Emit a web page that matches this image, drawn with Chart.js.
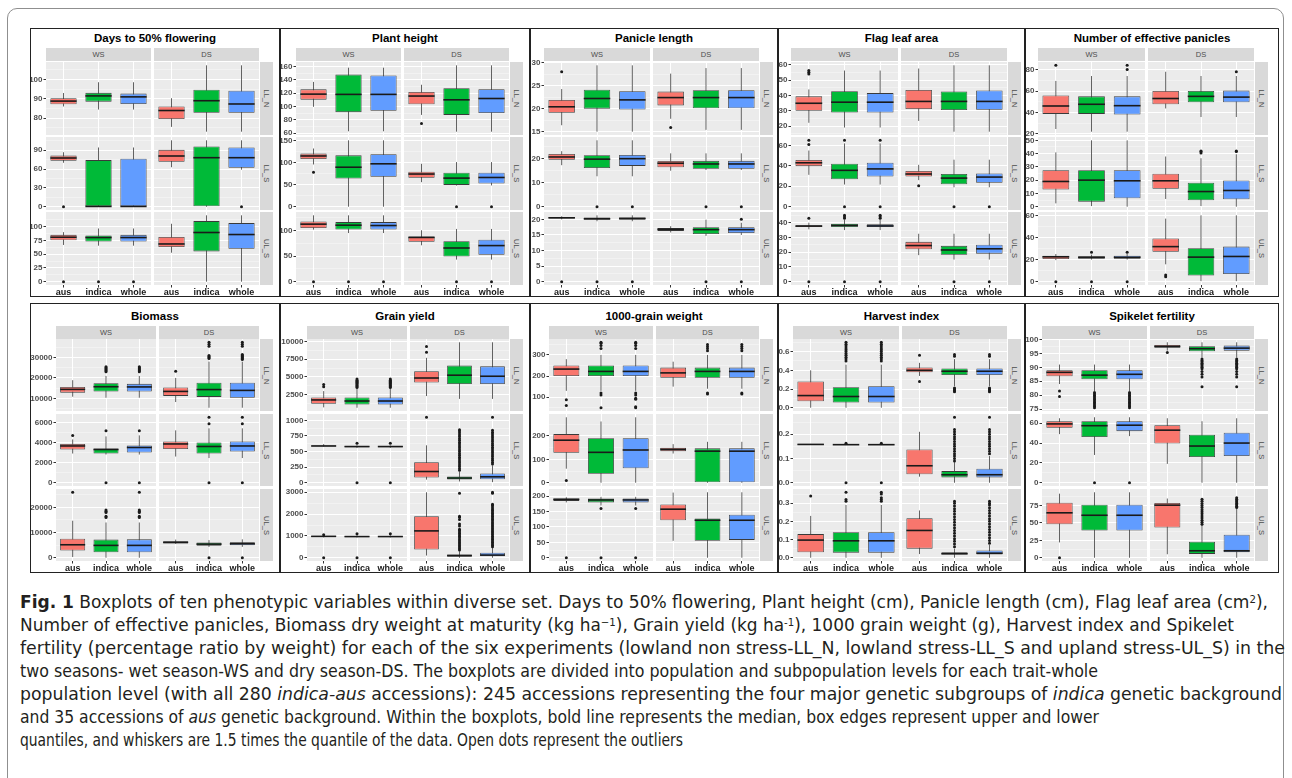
<!DOCTYPE html>
<html>
<head>
<meta charset="utf-8">
<script src="https://cdn.jsdelivr.net/npm/chart.js@4.4.0/dist/chart.umd.min.js"></script>
<style>
  body { margin: 0; width: 1292px; height: 778px; overflow: hidden; background: #fff;
         font-family: "Liberation Sans", Arial, sans-serif; }
  #frame { position: absolute; left: 7px; top: 8px; width: 1277px; height: 800px;
           border: 1px solid #8f8f8f; border-radius: 10px; box-sizing: border-box; }
  .panel { position: absolute; background: #fff; }
  .panel .edge { position: absolute; inset: 0; border: 1.5px solid #222; pointer-events: none; }
  .title { position: absolute; left: 0; right: 0; text-align: center; font-weight: bold;
           font-size: 11.5px; color: #000; line-height: 14px; }
  .strip { position: absolute; background: #d9d9d9; color: #4d4d4d; font-size: 7.5px;
           display: flex; align-items: center; justify-content: center; }
  .strip.side span { transform: rotate(90deg); white-space: nowrap; display: inline-block; }
  canvas { position: absolute; }
  #caption { position: absolute; left: 20px; top: 591px; width: 2000px; color: #231f20;
             font-family: "DejaVu Sans Condensed", "Liberation Sans Narrow", "Liberation Sans", sans-serif;
             font-size: 17px; line-height: 23px; }
  #caption div { white-space: nowrap; height: 23px; }
  #caption span.line { display: inline-block; transform-origin: 0 50%; white-space: nowrap; }
  #caption sup { font-size: 0.6em; line-height: 0; position: relative; top: -0.5em; vertical-align: baseline; }
</style>
</head>
<body>
<div id="frame"></div>
<div id="figure"></div>
<div id="caption">
  <div><span class="line"><b>Fig. 1</b> Boxplots of ten phenotypic variables within diverse set. Days to 50% flowering, Plant height (cm), Panicle length (cm), Flag leaf area (cm<sup>2</sup>),</span></div>
  <div><span class="line">Number of effective panicles, Biomass dry weight at maturity (kg ha<sup>−1</sup>), Grain yield (kg ha<sup>-1</sup>), 1000 grain weight (g), Harvest index and Spikelet</span></div>
  <div><span class="line">fertility (percentage ratio by weight) for each of the six experiments (lowland non stress-LL_N, lowland stress-LL_S and upland stress-UL_S) in the</span></div>
  <div><span class="line">two seasons- wet season-WS and dry season-DS. The boxplots are divided into population and subpopulation levels for each trait-whole</span></div>
  <div><span class="line">population level (with all 280 <i>indica-aus</i> accessions): 245 accessions representing the four major genetic subgroups of <i>indica</i> genetic background</span></div>
  <div><span class="line">and 35 accessions of <i>aus</i> genetic background. Within the boxplots, bold line represents the median, box edges represent upper and lower</span></div>
  <div><span class="line">quantiles, and whiskers are 1.5 times the quantile of the data. Open dots represent the outliers</span></div>
</div>
<script>
const groups = ["aus", "indica", "whole"];
const seasons = ["WS", "DS"];
const environments = ["LL_N", "LL_S", "UL_S"];
const traitTitles = ["Days to 50% flowering", "Plant height", "Panicle length", "Flag leaf area",
  "Number of effective panicles", "Biomass", "Grain yield", "1000-grain weight", "Harvest index",
  "Spikelet fertility"];

// each box: [lower whisker, q1, median, q3, upper whisker]
// order: LL_N WS, LL_N DS, LL_S WS, LL_S DS, UL_S WS, UL_S DS (aus, indica, whole each)
const floweringBoxes = [
  [86, 87.1, 88.8, 90.3, 93], [84.4, 88.5, 91.5, 93.1, 98.6], [84.4, 87.3, 91, 92.7, 98.6],
  [75.4, 79.5, 83.9, 86, 90.3], [72.9, 82.7, 89, 94.7, 107.4], [72.9, 82.7, 87.3, 94.2, 107.4],
  [70, 73.3, 77.6, 81.4, 86.8], [0, 0, 0.4, 74.3, 94.4], [0, 0, 0.4, 76.5, 94.4],
  [62.9, 71.6, 80.8, 90.6, 105.8], [0, 0, 78.1, 96, 105.8], [59, 61.9, 78.1, 94.4, 105.8],
  [66.9, 75.5, 81, 85.3, 90.2], [65.6, 73, 80.4, 84, 96.9], [65.6, 73, 80.4, 85.3, 96.9],
  [52.8, 63.2, 68.7, 81.6, 105.5], [0, 55.2, 89.6, 110.4, 120.9], [0, 60.1, 85.9, 106.7, 120.9]
];
const floweringOutliers = [[], [], [], [], [], [], [0], [], [], [], [], [0], [0], [0], [0], [], [], []];
const floweringTicks = [[80, 90, 100], [0, 30, 60, 90], [0, 25, 50, 75, 100]];

const heightBoxes = [
  [99.5, 110.3, 118.6, 125.8, 137], [62.6, 91.4, 118.2, 148, 158.5], [62.6, 93.5, 118.2, 146.6, 158.5],
  [87.3, 103.3, 115.7, 121.9, 132.7], [62, 87.3, 110, 127.5, 162], [62, 90, 112, 126, 162],
  [95.4, 107.7, 114.6, 120, 131.5], [0, 63.8, 89.2, 116, 150], [0, 67.7, 96.9, 118.5, 150],
  [55.4, 65.4, 73.8, 79.2, 96.9], [47.7, 49.2, 64.6, 76.9, 100.8], [48, 52.3, 66, 76.9, 100.8],
  [102, 105.3, 112.7, 118, 130], [95.3, 102, 110.7, 116.7, 130], [95.3, 102, 110, 116.7, 130],
  [71.3, 78, 86.7, 88.7, 100.7], [43.3, 49.3, 66, 79.3, 103.3], [43.3, 52.7, 70.7, 82, 103.3]
];
const heightOutliers = [[], [], [], [74.4], [], [], [77.7], [], [], [], [0], [0], [0], [0], [0], [], [0], [0]];
const heightTicks = [[60, 80, 100, 120, 140, 160], [0, 50, 100, 150], [0, 50, 100]];

const panicleBoxes = [
  [16.4, 19.1, 20.4, 21.9, 24.25], [15, 20, 22.2, 24.1, 29.4], [15, 19.8, 21.9, 23.8, 29.4],
  [17.8, 20.7, 22.4, 23.7, 27.6], [15.4, 20.1, 22.4, 24, 28.8], [15.4, 20.1, 22.4, 24, 28.8],
  [17.2, 19.4, 20.6, 21.8, 23], [12.6, 16, 19.7, 21.3, 27.5], [12.6, 16.9, 19.9, 21.4, 27.5],
  [14.9, 16.3, 18, 18.9, 22.1], [15.2, 15.7, 17.7, 19, 22.1], [15.2, 15.7, 17.7, 19, 22.1],
  [20, 20.3, 20.5, 20.8, 21], [19.4, 19.9, 20.2, 20.6, 21.3], [19.4, 19.9, 20.3, 20.6, 21.3],
  [15.8, 16.3, 16.8, 17.2, 17.8], [14.7, 15.3, 16.7, 17.5, 19.9], [15, 15.6, 16.7, 17.5, 18.9]
];
const panicleOutliers = [[28], [], [], [15.9], [], [], [], [0], [0], [], [0], [0], [0], [0], [0], [], [0], [20, 0]];
const panicleTicks = [[15, 20, 25, 30], [0, 10, 20], [0, 5, 10, 15, 20]];

const flagLeafBoxes = [
  [22.2, 30, 34.9, 39.4, 43.9], [19.1, 28.9, 35.6, 42.8, 56.2], [19.1, 28.9, 35.6, 41.5, 56.2],
  [23.4, 31.2, 36.1, 43.5, 57.5], [16.4, 30.5, 36.1, 42.6, 59.6], [16.4, 30.7, 36.1, 43.2, 59.6],
  [31.2, 39.7, 43, 45.8, 55], [21.7, 26.8, 35.6, 42, 62], [21.7, 29.5, 37, 43, 62],
  [26, 29.5, 32, 35, 41], [19, 22, 28, 32, 46], [19, 23.5, 29, 32.5, 46],
  [35.5, 37, 37.7, 38.3, 40], [35, 37, 38.2, 39.3, 42], [35, 37, 37.8, 39, 42],
  [18, 22, 24.5, 27, 32.5], [15, 18.3, 21.5, 24.3, 32.5], [15, 19, 22.3, 25, 32.5]
];
const flagLeafOutliers = [[54, 55.1, 56.2], [], [], [], [], [], [61, 65], [65, 0], [65, 0], [20.5], [0], [0],
  [43, 0], [43, 44, 45, 0], [43, 44, 45, 0], [], [0], [0]];
const flagLeafTicks = [[20, 30, 40, 50, 60], [0, 20, 40, 60], [0, 10, 20, 30, 40]];

const paniclesBoxes = [
  [24.5, 38.6, 46, 55.9, 69.4], [22, 38.6, 47.6, 55, 74], [22, 38, 46.3, 55, 74],
  [43.7, 47.6, 53, 60, 78], [35.7, 49.5, 55, 60, 74], [35.7, 49.5, 54.3, 60.4, 74],
  [2.5, 12.9, 19, 27.4, 40.9], [0.5, 3.8, 20, 27.4, 50], [0, 6.3, 19.5, 27.4, 50],
  [5.8, 13.5, 19.5, 24.9, 37.8], [0.5, 4.8, 11.4, 18, 36.5], [0, 5.6, 12.2, 19.8, 39.5],
  [19.5, 20.5, 22.5, 23.5, 25], [20, 20.8, 22, 23, 24.5], [20, 20.8, 22, 23.5, 25],
  [15.7, 27, 31.7, 39, 57], [0.5, 5.5, 22.2, 30.2, 60], [0.5, 7, 22.8, 31.7, 60]
];
const paniclesOutliers = [[84], [], [80, 84], [], [], [78], [], [], [], [], [40.5, 41.5, 42], [41.5, 42],
  [0], [26.5, 0], [26.5, 0], [6, 4.5], [], []];
const paniclesTicks = [[20, 40, 60, 80], [0, 10, 20, 30, 40, 50], [0, 20, 40, 60]];

const biomassBoxes = [
  [10800, 12800, 14400, 15600, 18900], [10300, 13300, 15700, 17400, 21000], [10300, 13300, 15600, 17100, 21000],
  [8200, 11200, 13400, 15300, 20000], [5400, 10700, 14300, 17700, 28000], [5400, 10300, 13900, 17700, 28000],
  [2900, 3300, 3650, 3850, 4300], [2800, 2900, 3300, 3400, 4600], [2800, 3000, 3500, 3700, 4700],
  [2600, 3350, 3850, 4100, 5200], [2450, 2900, 3600, 4000, 5400], [2450, 3100, 3650, 4100, 5400],
  [300, 2850, 5150, 7550, 14700], [0, 2200, 4900, 7200, 14000], [0, 2200, 4900, 7300, 14000],
  [5500, 5700, 6100, 6500, 7200], [4300, 4800, 5400, 6000, 7000], [4300, 5000, 5600, 6100, 7300]
];
const biomassOutliers = [
  [], [23000, 23500, 24000, 24500, 25000, 25500], [23000, 23500, 24000, 24500, 25000, 25500],
  [23300], [29500, 30000, 30500, 31000, 35500, 36500, 37500], [29000, 29500, 30000, 30500, 31000, 31500, 35500, 36500, 37500],
  [4700], [5150, 0], [5150, 0],
  [], [5850, 6500, 0], [5850, 6500, 0],
  [26000], [16000, 16500, 18000, 18500, 19000], [16000, 16500, 18000, 18500, 19000, 26000],
  [], [0], [0]
];
const biomassTicks = [[10000, 20000, 30000], [0, 2000, 4000, 6000], [0, 10000, 20000]];

const grainYieldBoxes = [
  [700, 1200, 1750, 2100, 3000], [650, 1100, 1600, 2100, 3300], [650, 1100, 1600, 2100, 3300],
  [2300, 4200, 4850, 5800, 7700], [1900, 4000, 5250, 6600, 9900], [1900, 4000, 5100, 6500, 9900],
  [580, 583, 590, 595, 620], [560, 570, 580, 590, 600], [560, 570, 580, 590, 600],
  [50, 85, 180, 330, 600], [20, 50, 75, 100, 180], [10, 55, 95, 150, 280],
  [930, 950, 980, 1000, 1020], [930, 950, 970, 1000, 1030], [930, 950, 970, 1000, 1030],
  [100, 380, 1230, 1900, 3000], [0, 50, 100, 150, 300], [0, 70, 120, 230, 450]
];
const grainYieldOutliers = [
  [3600, 3950], [3500, 3650, 3800, 3950, 4100, 4250, 4400, 4550, 4700], [3500, 3650, 3800, 3950, 4100, 4250, 4400, 4550, 4700],
  [8500, 9300], [], [],
  [], [635, 0], [635, 0],
  [1050], [200, 230, 260, 290, 320, 350, 380, 410, 440, 470, 500, 530, 560, 590, 620, 650, 680, 710, 740, 770, 800, 830, 850],
  [300, 330, 360, 390, 420, 450, 480, 510, 540, 570, 600, 630, 660, 690, 720, 750, 780, 810, 840, 1050],
  [1050, 0], [1100, 0], [1100, 0],
  [], [350, 420, 490, 560, 630, 700, 770, 840, 910, 980, 1050, 1120, 1190, 1260, 1300, 1450, 1550, 1750, 1850, 1900, 2950],
  [500, 570, 640, 710, 780, 850, 920, 990, 1060, 1130, 1200, 1270, 1340, 1410, 1480, 1550, 1620, 1690, 1760, 1830, 1900,
   1970, 2040, 2110, 2180, 2250, 2320, 2400, 2450, 2950, 3000]
];
const grainYieldTicks = [[2500, 5000, 7500, 10000], [0, 250, 500, 750, 1000], [0, 1000, 2000, 3000]];

const grainWeightBoxes = [
  [130, 200, 233, 250, 280], [130, 200, 222, 250, 300], [130, 200, 222, 250, 300],
  [150, 192, 215, 240, 268], [140, 192, 222, 240, 300], [140, 192, 222, 240, 300],
  [60, 128, 182, 208, 280], [0, 38, 130, 190, 262], [0, 62, 140, 190, 280],
  [125, 135, 143, 150, 165], [0, 0, 135, 147, 175], [0, 0, 135, 147, 175],
  [180, 185, 190, 193, 197], [170, 180, 188, 193, 198], [170, 180, 188, 193, 198],
  [55, 122, 158, 173, 212], [0, 55, 122, 128, 213], [0, 58, 122, 140, 213]
];
const grainWeightOutliers = [
  [88, 60], [330, 345, 355, 360, 120, 110, 50], [330, 345, 355, 360, 120, 110, 95, 90, 55, 50],
  [], [320, 330, 340, 350, 115, 120], [320, 330, 340, 350, 115, 120],
  [10], [], [], [], [], [],
  [0], [160, 0], [160, 0], [], [], []
];
const grainWeightTicks = [[100, 200, 300], [0, 100, 200], [0, 50, 100, 150, 200]];

const harvestBoxes = [
  [0, 0.07, 0.13, 0.28, 0.40], [0, 0.055, 0.12, 0.22, 0.46], [0, 0.055, 0.12, 0.23, 0.46],
  [0.34, 0.38, 0.40, 0.43, 0.48], [0.23, 0.35, 0.39, 0.42, 0.52], [0.23, 0.35, 0.39, 0.42, 0.52],
  [0.157, 0.157, 0.158, 0.16, 0.16], [0.155, 0.156, 0.157, 0.158, 0.159], [0.155, 0.156, 0.157, 0.158, 0.159],
  [0.025, 0.035, 0.07, 0.137, 0.21], [0, 0.022, 0.033, 0.048, 0.085], [0, 0.022, 0.033, 0.058, 0.11],
  [0, 0.03, 0.097, 0.13, 0.23], [0, 0.028, 0.093, 0.14, 0.29], [0, 0.028, 0.093, 0.14, 0.29],
  [0.02, 0.05, 0.15, 0.217, 0.26], [0, 0.018, 0.022, 0.03, 0.05], [0, 0.018, 0.025, 0.04, 0.07]
];
const harvestOutliers = [
  [], [0.50, 0.52, 0.54, 0.56, 0.58, 0.60, 0.62, 0.64, 0.66, 0.68, 0.70], [0.50, 0.52, 0.54, 0.56, 0.58, 0.60, 0.62, 0.64, 0.66, 0.68, 0.70],
  [0.56, 0.28], [0.55, 0.57, 0.17, 0.18, 0.19, 0.20, 0.21], [0.55, 0.57, 0.17, 0.18, 0.19, 0.20, 0.21],
  [], [0.163, 0], [0.163, 0],
  [], [0.09, 0.10, 0.11, 0.12, 0.13, 0.14, 0.15, 0.16, 0.17, 0.18, 0.19, 0.20, 0.21, 0.22, 0.27],
  [0.12, 0.13, 0.14, 0.15, 0.16, 0.17, 0.18, 0.19, 0.20, 0.21, 0.22, 0.27],
  [0.34], [0.31, 0.32, 0.36], [0.31, 0.32, 0.33, 0.35, 0.36],
  [], [0.06, 0.075, 0.09, 0.105, 0.12, 0.135, 0.15, 0.165, 0.18, 0.195, 0.21, 0.225, 0.24, 0.255, 0.27, 0.285, 0.30, 0.31],
  [0.08, 0.095, 0.11, 0.125, 0.14, 0.155, 0.17, 0.185, 0.20, 0.215, 0.23, 0.245, 0.26, 0.275, 0.29, 0.30, 0.31]
];
const harvestTicks = [[0, 0.2, 0.4, 0.6], [0, 0.1, 0.2], [0, 0.1, 0.2, 0.3]];

const spikeletBoxes = [
  [84, 86.8, 88.2, 89, 91], [81.5, 85.7, 87.2, 89, 91], [81.5, 85.7, 87.5, 89, 91],
  [96, 97, 97.5, 98, 99], [93.5, 95.8, 96.7, 97.6, 99], [93.5, 96, 96.9, 97.8, 99],
  [49, 55.5, 59.3, 62, 65], [28, 46, 57.5, 62, 66], [47, 52, 58, 62, 66],
  [19, 39.5, 53, 58, 65], [0, 26, 37, 48.5, 62], [0, 27, 40, 50.5, 65],
  [22, 48, 64.5, 79, 92], [0, 39, 61, 76, 94], [0, 39, 61, 76, 94],
  [5, 43.5, 75.5, 78.5, 85], [0, 5.5, 10, 23, 47], [0, 8, 10, 33, 70]
];
const spikeletOutliers = [
  [81.5, 79.5], [75.5, 76, 76.5, 77, 77.5, 78, 78.5, 79, 79.5, 80, 80.5, 81], [75.5, 76, 76.5, 77, 77.5, 78, 78.5, 79, 79.5, 80, 80.5, 81],
  [95.3], [83, 86.5, 87.5, 88.5, 89.5, 90, 90.5, 91, 91.5, 92, 92.5, 93], [83, 86.5, 87.5, 88.5, 89.5, 90, 90.5, 91, 91.5, 92, 92.5, 93],
  [], [0], [0], [], [], [],
  [0], [], [],
  [], [48, 51, 54, 57, 60, 63, 66, 69, 72, 75, 78, 81, 84], [72, 74, 76, 78, 80, 82, 84, 86]
];
const spikeletTicks = [[75, 80, 85, 90, 95, 100], [0, 20, 40, 60], [0, 25, 50, 75]];

const traitTable = [
  [floweringBoxes, floweringOutliers, floweringTicks],
  [heightBoxes, heightOutliers, heightTicks],
  [panicleBoxes, panicleOutliers, panicleTicks],
  [flagLeafBoxes, flagLeafOutliers, flagLeafTicks],
  [paniclesBoxes, paniclesOutliers, paniclesTicks],
  [biomassBoxes, biomassOutliers, biomassTicks],
  [grainYieldBoxes, grainYieldOutliers, grainYieldTicks],
  [grainWeightBoxes, grainWeightOutliers, grainWeightTicks],
  [harvestBoxes, harvestOutliers, harvestTicks],
  [spikeletBoxes, spikeletOutliers, spikeletTicks]
];

const groupColors = ["#F8766D", "#00BA38", "#619CFF"];

// layout
const panelEdges = [30, 280, 530, 778, 1025, 1279];
const plotLefts = [16, 16, 14, 13, 13, 26, 27, 19, 15, 17];
const rowLayouts = [
  { y: 28, h: 269, titleY: 3, stripY: 20, rowY: [34, 109, 184], rowH: 73 },
  { y: 303, h: 270, titleY: 5.5, stripY: 23, rowY: [36, 111, 186], rowH: 72 }
];
const plotRight = 229;
const facetGap = 3;
const labelRoom = 5; // extra canvas space so edge tick labels are not clipped

Chart.defaults.font.family = '"Liberation Sans", Arial, sans-serif';

const panelBackground = {
  id: "panelBackground",
  beforeDraw(chart) {
    const { ctx, chartArea: a } = chart;
    ctx.save();
    ctx.fillStyle = "#ebebeb";
    ctx.fillRect(a.left, a.top, a.width, a.height);
    ctx.restore();
  }
};

function boxParts(boxes, outliers) {
  return {
    id: "boxParts",
    beforeDatasetsDraw(chart) {
      const { ctx, scales: { y } } = chart;
      const bars = chart.getDatasetMeta(0).data;
      ctx.save();
      ctx.strokeStyle = "#3a3a3a";
      ctx.lineWidth = 0.8;
      boxes.forEach((b, i) => {
        const x = bars[i].x;
        ctx.beginPath();
        ctx.moveTo(x, y.getPixelForValue(b[0]));
        ctx.lineTo(x, y.getPixelForValue(b[4]));
        ctx.stroke();
      });
      ctx.restore();
    },
    afterDatasetsDraw(chart) {
      const { ctx, scales: { y } } = chart;
      const bars = chart.getDatasetMeta(0).data;
      ctx.save();
      ctx.strokeStyle = "#1a1a1a";
      ctx.lineWidth = 1.6;
      boxes.forEach((b, i) => {
        const bar = bars[i];
        const py = y.getPixelForValue(b[2]);
        ctx.beginPath();
        ctx.moveTo(bar.x - bar.width / 2, py);
        ctx.lineTo(bar.x + bar.width / 2, py);
        ctx.stroke();
      });
      ctx.fillStyle = "#1a1a1a";
      outliers.forEach((list, i) => {
        list.forEach((v) => {
          ctx.beginPath();
          ctx.arc(bars[i].x, y.getPixelForValue(v), 1.5, 0, Math.PI * 2);
          ctx.fill();
        });
      });
      ctx.restore();
    }
  };
}

function buildTicks(majors, min, max) {
  const step = majors.length > 1 ? majors[1] - majors[0] : 1;
  const list = majors.map((v) => ({ value: v, major: true }));
  majors.forEach((v) => list.push({ value: v - step / 2, major: false }));
  list.push({ value: majors[majors.length - 1] + step / 2, major: false });
  return list.filter((t) => t.value >= min && t.value <= max).sort((a, b) => a.value - b.value);
}

function makeFacet(canvas, boxes, outliers, range, majors, yWidth, showX) {
  const decimals = majors.some((v) => !Number.isInteger(v)) ? 1 : 0;
  const ticks = buildTicks(majors, range[0], range[1]);
  new Chart(canvas, {
    type: "bar",
    data: {
      labels: groups,
      datasets: [{
        data: boxes.map((b) => [b[1], b[3]]),
        backgroundColor: groupColors,
        borderColor: "#3a3a3a",
        borderWidth: 0.8,
        borderSkipped: false,
        barPercentage: 0.75,
        categoryPercentage: 1
      }]
    },
    options: {
      responsive: false,
      animation: false,
      events: [],
      layout: { padding: { top: labelRoom, bottom: showX ? 0 : labelRoom, left: 0, right: 0 } },
      plugins: { legend: { display: false }, tooltip: { enabled: false } },
      scales: {
        x: {
          grid: { offset: false, color: "#ffffff", lineWidth: 1, drawTicks: showX, tickLength: 2.5, tickColor: "#333" },
          border: { display: false },
          ticks: { display: showX, padding: 0, autoSkip: false, maxRotation: 0, color: "#1a1a1a",
                   font: { size: 9, weight: "bold" } },
          afterFit: (axis) => {
            axis.height = showX ? 16 : 0;
            axis.paddingLeft = 0; axis.paddingRight = 0;
          }
        },
        y: {
          min: range[0],
          max: range[1],
          afterBuildTicks: (axis) => { axis.ticks = ticks.map((t) => ({ value: t.value, major: t.major })); },
          grid: {
            color: (c) => (c.tick && c.tick.major ? "#ffffff" : "rgba(255,255,255,0.75)"),
            lineWidth: (c) => (c.tick && c.tick.major ? 1 : 0.5),
            drawTicks: yWidth > 0,
            tickLength: 2.5,
            tickColor: (c) => (c.tick && c.tick.major ? "#333" : "rgba(0,0,0,0)")
          },
          border: { display: false },
          ticks: {
            display: yWidth > 0,
            autoSkip: false,
            padding: 1,
            color: "#4d4d4d",
            font: { size: 8, weight: "bold" },
            callback: (value, index, all) => (all[index].major ? value.toFixed(decimals) : "")
          },
          afterFit: (axis) => {
            axis.width = yWidth;
            axis.paddingTop = 0; axis.paddingBottom = 0;
          }
        }
      }
    },
    plugins: [panelBackground, boxParts(boxes, outliers)]
  });
}

function addDiv(parent, cls, style, html) {
  const d = document.createElement("div");
  d.className = cls;
  Object.assign(d.style, style);
  if (html !== undefined) d.innerHTML = html;
  parent.appendChild(d);
  return d;
}

const figure = document.getElementById("figure");

traitTable.forEach(([boxes, outliers, tickSets], k) => {
  const lay = rowLayouts[k < 5 ? 0 : 1];
  const col = k % 5;
  const px = panelEdges[col];
  const pw = panelEdges[col + 1] - px;
  const panel = addDiv(figure, "panel", { left: px + "px", top: lay.y + "px", width: pw + "px", height: lay.h + "px" });
  addDiv(panel, "title", { top: lay.titleY + "px" }, traitTitles[k]);

  const L = plotLefts[k];
  const fw = Math.round((plotRight - L - facetGap) / 2);
  const colX = [L, L + fw + facetGap];
  const colW = [fw, plotRight - (L + fw + facetGap)];

  seasons.forEach((s, c) => {
    addDiv(panel, "strip", { left: colX[c] + "px", top: lay.stripY + "px", width: colW[c] + "px", height: "13px" },
      "<span>" + s + "</span>");
  });

  environments.forEach((env, r) => {
    addDiv(panel, "strip side", { left: (plotRight + 1) + "px", top: lay.rowY[r] + "px", width: "13px", height: lay.rowH + "px" },
      "<span>" + env + "</span>");

    // shared y range for both seasons of this row, ggplot-style 5% expansion
    let lo = Infinity, hi = -Infinity;
    for (let c = 0; c < 2; c++) {
      for (let g = 0; g < 3; g++) {
        const idx = (r * 2 + c) * 3 + g;
        const vals = [boxes[idx][0], boxes[idx][4]].concat(outliers[idx]);
        lo = Math.min(lo, ...vals);
        hi = Math.max(hi, ...vals);
      }
    }
    const pad = (hi - lo) * 0.05;
    const range = [lo - pad, hi + pad];

    seasons.forEach((s, c) => {
      const start = (r * 2 + c) * 3;
      const showX = r === 2;
      const cv = document.createElement("canvas");
      const left = c === 0 ? 0 : colX[1];
      const width = c === 0 ? L + colW[0] : colW[1];
      const height = lay.rowH + labelRoom + (showX ? 16 : labelRoom);
      const top = lay.rowY[r] - labelRoom;
      cv.width = width; cv.height = height;
      cv.style.left = left + "px"; cv.style.top = top + "px";
      cv.style.width = width + "px"; cv.style.height = height + "px";
      panel.appendChild(cv);
      makeFacet(cv, boxes.slice(start, start + 3), outliers.slice(start, start + 3), range, tickSets[r],
        c === 0 ? L : 0, showX);
    });
  });
  addDiv(panel, "edge", {});
});

// caption lines fitted to the widths they take in the printed figure
const captionWidths = [1248, 1214, 1265, 1078, 1262, 1079, 663];
function fitCaption() {
  document.querySelectorAll("#caption span.line").forEach((line, i) => {
    line.style.transform = "none";
    const natural = line.getBoundingClientRect().width;
    line.style.transform = "scaleX(" + (captionWidths[i] / natural).toFixed(4) + ")";
  });
}
fitCaption();
if (document.fonts && document.fonts.ready) document.fonts.ready.then(fitCaption);
</script>
</body>
</html>
